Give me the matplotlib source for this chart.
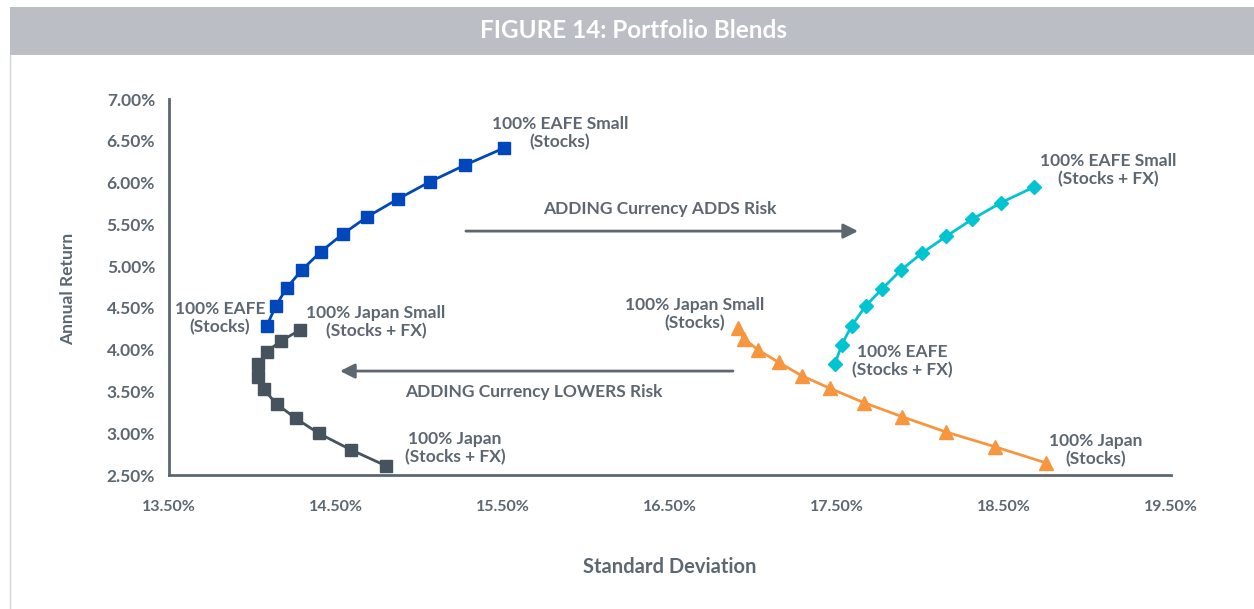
import matplotlib.pyplot as plt
from matplotlib.patches import Rectangle
from matplotlib.lines import Line2D

plt.rcParams['font.family'] = ['Lato', 'DejaVu Sans']
plt.rcParams['font.weight'] = 'bold'

# standard deviation (%) / annual return (%) for each blend
eafe_stocks_x = [14.085, 14.139, 14.205, 14.295, 14.408, 14.540, 14.687, 14.869, 15.061, 15.271, 15.508]
eafe_stocks_y = [4.282, 4.522, 4.740, 4.952, 5.171, 5.383, 5.590, 5.801, 6.008, 6.208, 6.415]

japan_fx_x = [14.283, 14.172, 14.085, 14.035, 14.035, 14.067, 14.145, 14.259, 14.396, 14.588, 14.798]
japan_fx_y = [4.234, 4.106, 3.975, 3.828, 3.676, 3.525, 3.349, 3.178, 2.999, 2.803, 2.611]

japan_stocks_x = [16.907, 16.943, 17.029, 17.151, 17.289, 17.458, 17.662, 17.891, 18.154, 18.444, 18.753]
japan_stocks_y = [4.262, 4.130, 3.995, 3.848, 3.688, 3.537, 3.365, 3.197, 3.014, 2.839, 2.644]

eafe_fx_x = [17.488, 17.528, 17.588, 17.672, 17.769, 17.881, 18.009, 18.153, 18.308, 18.480, 18.678]
eafe_fx_y = [3.828, 4.059, 4.286, 4.525, 4.725, 4.949, 5.156, 5.355, 5.559, 5.757, 5.945]

x_ticks = [13.5, 14.5, 15.5, 16.5, 17.5, 18.5, 19.5]
y_ticks = [2.5, 3.0, 3.5, 4.0, 4.5, 5.0, 5.5, 6.0, 6.5, 7.0]

TEXT = '#5d6771'
BLUE = '#0047bb'
SLATE = '#46525d'
ORANGE = '#f7963f'
CYAN = '#00c4cf'

fig = plt.figure(figsize=(12.54, 6.09), dpi=100)
fig.patches.append(Rectangle((10 / 1254, 1 - 55 / 609), 1 - 10 / 1254, 48 / 609,
                             transform=fig.transFigure, facecolor='#bbbec5',
                             edgecolor='none'))
fig.lines.append(Line2D([10 / 1254, 10 / 1254], [0, 1 - 55 / 609],
                        transform=fig.transFigure, color='#d3d5da', lw=1))
fig.text(633 / 1254, 1 - 31 / 609, 'FIGURE 14: Portfolio Blends', color='white',
         fontsize=17.5, fontweight='bold', ha='center', va='center')

ax = fig.add_axes([169 / 1254, 134 / 609, 1002 / 1254, 376 / 609])

ax.plot(eafe_stocks_x, eafe_stocks_y, color=BLUE, lw=2, marker='s', ms=8.5)
ax.plot(japan_fx_x, japan_fx_y, color=SLATE, lw=2, marker='s', ms=8.5)
ax.plot(japan_stocks_x, japan_stocks_y, color=ORANGE, lw=2, marker='^', ms=10.5)
ax.plot(eafe_fx_x, eafe_fx_y, color=CYAN, lw=2, marker='D', ms=7.5)

ax.set_xlim(13.5, 19.5)
ax.set_ylim(2.5, 7.0)
ax.set_xticks(x_ticks)
ax.set_xticklabels([f'{v:.2f}%' for v in x_ticks])
ax.set_yticks(y_ticks)
ax.set_yticklabels([f'{v:.2f}%' for v in y_ticks])
ax.tick_params(axis='both', length=0, labelcolor=TEXT)
ax.tick_params(axis='x', pad=18, labelsize=11.5)
ax.tick_params(axis='y', pad=10, labelsize=12.5)

for side in ['top', 'right']:
    ax.spines[side].set_visible(False)
for side in ['left', 'bottom']:
    ax.spines[side].set_color(TEXT)
    ax.spines[side].set_linewidth(2)

fig.text(670 / 1254, 1 - 567 / 609, 'Standard Deviation', color=TEXT,
         fontsize=14.5, fontweight='bold', ha='center', va='center')
fig.text(68 / 1254, 1 - 289 / 609, 'Annual Return', color=TEXT, rotation=90,
         fontsize=12.5, fontweight='bold', ha='center', va='center')

# end point labels
labels = [
    ('100% EAFE Small\n(Stocks)', 15.841, 6.591),
    ('100% EAFE\n(Stocks)', 13.805, 4.378),
    ('100% Japan Small\n(Stocks + FX)', 14.740, 4.330),
    ('100% Japan\n(Stocks + FX)', 15.213, 2.823),
    ('100% Japan Small\n(Stocks)', 16.650, 4.426),
    ('100% EAFE\n(Stocks + FX)', 17.889, 3.864),
    ('100% Japan\n(Stocks)', 19.051, 2.799),
    ('100% EAFE Small\n(Stocks + FX)', 19.123, 6.148),
]
for txt, lx, ly in labels:
    ax.text(lx, ly, txt, color=TEXT, fontsize=12.5, fontweight='bold',
            ha='center', va='center', linespacing=1.15)

# currency arrows
arrow_style = dict(arrowstyle='-|>', color=TEXT, lw=2, mutation_scale=22,
                   shrinkA=0, shrinkB=0)
ax.annotate('', xy=(17.626, 5.419), xytext=(15.278, 5.419), arrowprops=arrow_style)
ax.text(16.44, 5.682, 'ADDING Currency ADDS Risk', color=TEXT, fontsize=12.5,
        fontweight='bold', ha='center', va='center')
ax.annotate('', xy=(14.524, 3.744), xytext=(16.877, 3.744), arrowprops=arrow_style)
ax.text(15.686, 3.493, 'ADDING Currency LOWERS Risk', color=TEXT, fontsize=12.5,
        fontweight='bold', ha='center', va='center')

fig.savefig('out.png', dpi=100)
